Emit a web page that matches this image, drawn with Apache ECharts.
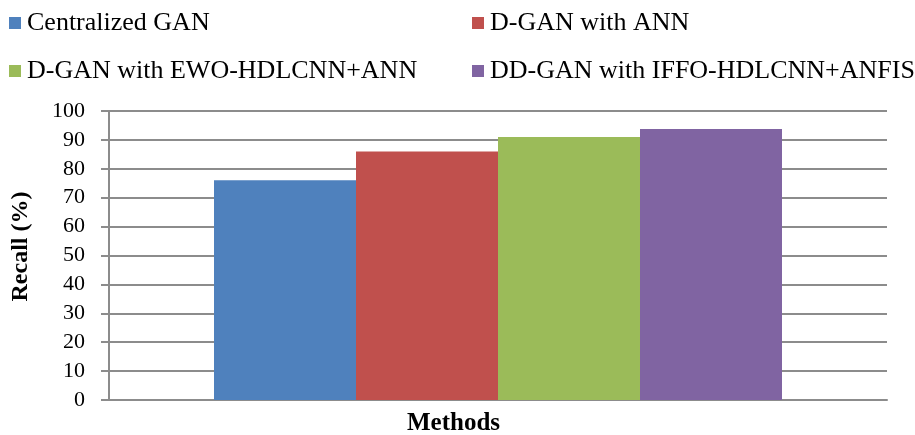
<!DOCTYPE html>
<html>
<head>
<meta charset="utf-8">
<script src="https://cdn.jsdelivr.net/npm/echarts@6/dist/echarts.min.js"></script>
<style>
html,body{margin:0;padding:0;background:#fff;}
#chart{width:915px;height:435px;}
</style>
</head>
<body>
<div id="chart"></div>
<script>
const categories = [''];
const seriesNames = ['Centralized GAN', 'D-GAN with ANN', 'D-GAN with EWO-HDLCNN+ANN', 'DD-GAN with IFFO-HDLCNN+ANFIS'];
const centralizedGAN = [76];
const dganANN = [86];
const dganEWO = [91];
const ddganIFFO = [93.8];
const yTicks = [0, 100, 10];
const colors = ['#4F81BD', '#C0504D', '#9BBB59', '#8064A2'];
const values = [centralizedGAN, dganANN, dganEWO, ddganIFFO];

const font = 'Liberation Serif, Times New Roman, serif';
const legendPos = [[9, 10], [472, 10], [9, 58], [472, 58]];

const chart = echarts.init(document.getElementById('chart'));
chart.setOption({
  animation: false,
  backgroundColor: '#fff',
  title: {
    text: 'Methods',
    left: 407,
    top: 411,
    padding: 0,
    textStyle: {fontFamily: font, fontWeight: 'bold', fontSize: 25, color: '#000'}
  },
  legend: seriesNames.map((n, i) => ({
    data: [n],
    left: legendPos[i][0],
    top: legendPos[i][1],
    padding: 0,
    itemWidth: 12,
    itemHeight: 12,
    itemGap: 6,
    icon: 'rect',
    selectedMode: false,
    textStyle: {fontFamily: font, fontSize: 26, color: '#000', lineHeight: 26, padding: [0,0,0,1]}
  })),
  grid: {left: 109, right: 28, top: 111, bottom: 35, containLabel: false},
  xAxis: {
    type: 'category',
    data: categories,
    axisLine: {lineStyle: {color: '#8c8c8c', width: 2}},
    axisTick: {show: false},
    axisLabel: {show: false}
  },
  yAxis: {
    type: 'value',
    min: yTicks[0],
    max: yTicks[1],
    interval: yTicks[2],
    name: 'Recall (%)',
    nameLocation: 'middle',
    nameGap: 76,
    nameTextStyle: {fontFamily: font, fontWeight: 'bold', fontSize: 24, color: '#000', padding: [0,0,0,18]},
    axisLine: {show: true, lineStyle: {color: '#8c8c8c', width: 2}},
    axisTick: {show: true, length: 8, lineStyle: {color: '#8c8c8c', width: 2}},
    axisLabel: {fontFamily: font, fontSize: 22, color: '#000', margin: 24},
    splitLine: {lineStyle: {color: '#8c8c8c', width: 2}}
  },
  series: seriesNames.map((n, i) => ({
    name: n,
    type: 'bar',
    data: values[i],
    barWidth: 142,
    barGap: '0%',
    itemStyle: {color: colors[i]}
  }))
});
</script>
</body>
</html>
